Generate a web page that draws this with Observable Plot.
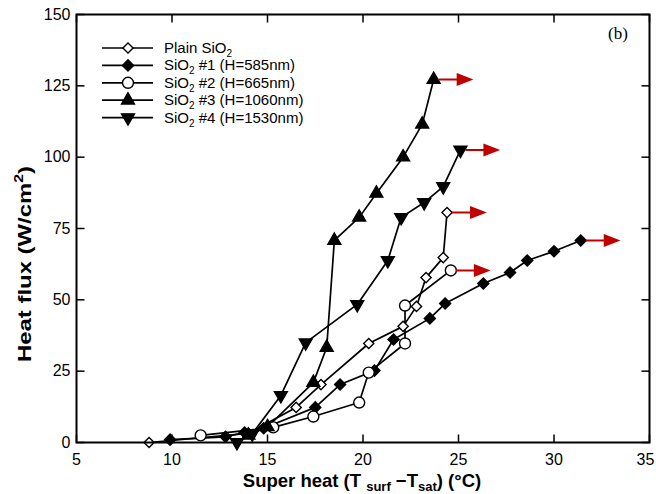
<!DOCTYPE html>
<html><head><meta charset="utf-8">
<script src="https://cdn.jsdelivr.net/npm/d3@7"></script>
<script src="https://cdn.jsdelivr.net/npm/@observablehq/plot@0.6"></script>
<style>body{margin:0;background:#fff} svg{font-family:"Liberation Sans",Arial,sans-serif}</style>
</head><body><div id="chart"></div>
<script>
// ---- data ----
const seriesNames = ["Plain SiO2", "SiO2 #1 (H=585nm)", "SiO2 #2 (H=665nm)", "SiO2 #3 (H=1060nm)", "SiO2 #4 (H=1530nm)"];
const plainX = [8.8, 14.0, 16.5, 17.8, 20.3, 22.1, 22.8, 23.3, 24.2, 24.4];
const plainY = [0, 3.2, 12.3, 20.3, 34.7, 40.7, 47.7, 57.8, 64.8, 80.6];
const s1X = [9.9, 12.8, 13.8, 14.8, 17.5, 18.8, 20.6, 21.6, 23.5, 24.3, 26.3, 27.7, 28.6, 30.0, 31.4];
const s1Y = [1, 2, 3.5, 5, 12.3, 20.3, 25.2, 36.1, 43.5, 48.7, 55.7, 59.6, 63.8, 67, 70.8];
const s2X = [11.5, 15.3, 17.4, 19.8, 20.3, 22.2, 22.2, 24.6];
const s2Y = [2.5, 5.3, 9.1, 14, 24.5, 34.7, 48, 60.3];
const s3X = [14.0, 15.0, 17.4, 18.1, 18.5, 19.8, 20.7, 22.1, 23.1, 23.7];
const s3Y = [2.5, 5.5, 21, 33.3, 70.8, 78.9, 87.3, 100, 111.5, 127.2];
const s4X = [13.4, 14.2, 15.7, 17.0, 19.7, 21.3, 22.0, 23.2, 24.2, 25.1];
const s4Y = [0, 3, 16.5, 35, 48.4, 63.8, 78.9, 84.1, 89.7, 102.5];
const xTicks = [5, 10, 15, 20, 25, 30, 35];
const yTicks = [0, 25, 50, 75, 100, 125, 150];

const seriesXY = [[plainX, plainY], [s1X, s1Y], [s2X, s2Y], [s3X, s3Y], [s4X, s4Y]];
const styles = [
  {symbol: "diamond2", fill: "white", r: 4.6, rotate: 0},
  {symbol: "diamond2", fill: "black", r: 5, rotate: 0},
  {symbol: "circle", fill: "white", r: 5.5, rotate: 0},
  {symbol: "triangle", fill: "black", r: 4.8, rotate: 0},
  {symbol: "triangle", fill: "black", r: 4.8, rotate: 180}
];
const data = seriesXY.flatMap(([xs, ys], i) => xs.map((x, j) => ({series: seriesNames[i], i, x, y: ys[j]})));
const lastPts = seriesXY.map(([xs, ys], i) => ({i, x: xs[xs.length - 1], y: ys[ys.length - 1]}));

const lineShape = {draw(ctx, l) { ctx.moveTo(0, 0); ctx.lineTo(0, -l); }};
const arrowShape = {draw(ctx, l) {
  ctx.moveTo(0, 0); ctx.lineTo(0, -l + 10);
  ctx.moveTo(-5, -l + 13); ctx.lineTo(0, -l); ctx.lineTo(5, -l + 13); ctx.closePath();
}};
const tickOpts = {length: 8, anchor: "start", shape: lineShape, stroke: "black", strokeWidth: 1.5, strokeLinecap: "butt"};

const marks = [
  Plot.vector(xTicks, {...tickOpts, x: d => d, frameAnchor: "bottom", rotate: 0}),
  Plot.vector(xTicks, {...tickOpts, x: d => d, frameAnchor: "top", rotate: 180}),
  Plot.vector(yTicks, {...tickOpts, y: d => d, frameAnchor: "left", rotate: 90}),
  Plot.vector(yTicks, {...tickOpts, y: d => d, frameAnchor: "right", rotate: -90}),
  Plot.axisX({ticks: xTicks.slice(0, -1), tickSize: 0, tickPadding: 11, label: null, fontSize: 16, tickFormat: d => d}),
  Plot.axisX({ticks: xTicks.slice(-1), tickSize: 0, tickPadding: 11, label: null, fontSize: 16, tickFormat: d => d, dx: -4}),
  Plot.axisY({ticks: yTicks, tickSize: 0, tickPadding: 6, label: null, fontSize: 16, tickFormat: d => d}),
  Plot.line(data, {x: "x", y: "y", z: "series", stroke: "black", strokeWidth: 1.7}),
  ...styles.map((s, i) => Plot.dot(data.filter(d => d.i === i), {
    x: "x", y: "y", symbol: s.symbol, r: s.r, rotate: s.rotate, fill: s.fill, stroke: "black", strokeWidth: 1.4
  })),
  Plot.vector(lastPts, {x: "x", y: "y", rotate: 90, length: 32, anchor: "start", dx: 5,
    shape: arrowShape, stroke: "#c00000", fill: "#c00000", strokeWidth: 2, strokeLinejoin: "miter", strokeLinecap: "butt"}),
  Plot.frame({stroke: "black", strokeWidth: 2})
];

const chart = Plot.plot({
  width: 656, height: 494,
  marginLeft: 76, marginRight: 7, marginTop: 14, marginBottom: 52,
  x: {domain: [5, 35]},
  y: {domain: [0, 150]},
  style: {fontFamily: '"Liberation Sans", Arial, sans-serif', fontSize: "16px", color: "black", background: "white"},
  marks
});
document.getElementById("chart").appendChild(chart);

// ---- text overlays: axis titles, legend, panel label ----
const svg = d3.select(chart);
const yl = svg.append("text").attr("transform", "translate(31,264) rotate(-90)")
  .attr("text-anchor", "middle").attr("font-weight", "bold").attr("font-size", 19)
  .attr("textLength", 196).attr("lengthAdjust", "spacingAndGlyphs");
yl.append("tspan").text("Heat flux (W/cm");
yl.append("tspan").attr("font-size", 12.5).attr("dy", -8).text("2");
yl.append("tspan").attr("dy", 8).text(")");

const xl = svg.append("text").attr("x", 362).attr("y", 487)
  .attr("text-anchor", "middle").attr("font-weight", "bold").attr("font-size", 18.5);
xl.append("tspan").text("Super heat (T ");
xl.append("tspan").attr("font-size", 13).attr("dy", 4).text("surf");
xl.append("tspan").attr("dy", -4).text(" \u2212T");
xl.append("tspan").attr("font-size", 13).attr("dy", 4).text("sat");
xl.append("tspan").attr("dy", -4).text(") (\u00b0C)");

svg.append("text").attr("x", 618).attr("y", 39).attr("text-anchor", "middle")
  .attr("font-family", '"Liberation Serif", "Times New Roman", serif').attr("font-size", 17).text("(b)");

const leg = svg.append("g");
seriesNames.forEach((name, i) => {
  const cy = 48 + i * 17.4;
  const s = styles[i];
  leg.append("line").attr("x1", 102).attr("x2", 153).attr("y1", cy).attr("y2", cy)
    .attr("stroke", "black").attr("stroke-width", 1.7);
  const symMap = {diamond2: d3.symbolDiamond2, circle: d3.symbolCircle, triangle: d3.symbolTriangle};
  leg.append("path").attr("d", d3.symbol(symMap[s.symbol], Math.PI * s.r * s.r)())
    .attr("transform", `translate(128,${cy}) rotate(${s.rotate})`)
    .attr("fill", s.fill).attr("stroke", "black").attr("stroke-width", 1.4);
  const t = leg.append("text").attr("x", 164).attr("y", cy + 5).attr("font-size", 15)
    .attr("text-anchor", "start");
  const m = name.match(/^(.*?SiO)2(.*)$/);
  t.append("tspan").text(m[1]);
  t.append("tspan").attr("font-size", 10).attr("dy", 4).text("2");
  t.append("tspan").attr("dy", -4).text(m[2]);
});
</script>
</body></html>
